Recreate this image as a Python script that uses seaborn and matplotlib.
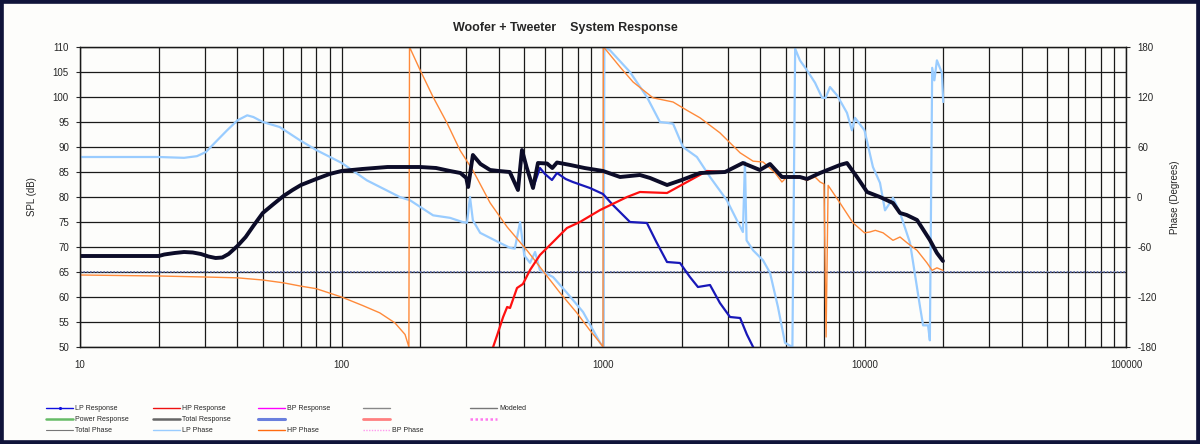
import numpy as np
import pandas as pd
import matplotlib
matplotlib.use('Agg')
import matplotlib.pyplot as plt
from matplotlib.lines import Line2D
from matplotlib.patches import Rectangle
from matplotlib.ticker import FixedLocator, FuncFormatter, NullFormatter
import seaborn as sns

# ---- data ----
# Total response (dB)
total_freq = [10, 15, 20, 21, 23, 25, 27, 29, 31, 33, 35, 37, 40, 43, 46, 50, 55, 60, 65, 70,
              80, 90, 100, 120, 150, 200, 230, 260, 285, 300, 305, 318, 340, 370, 400, 440,
              473, 490, 510, 540, 564, 611, 640, 667, 750, 850, 1000, 1162, 1384, 1514, 1758,
              2000, 2350, 2930, 3428, 3981, 4352, 4834, 5662, 6030, 6761, 8053, 8570, 9360,
              10230, 11460, 12850, 13670, 14500, 15880, 17780, 18920, 19950]
total_spl = [68.2, 68.2, 68.2, 68.5, 68.8, 69.0, 68.9, 68.6, 68.1, 67.8, 67.9, 68.6, 70.2, 72.0,
             74.2, 76.8, 78.6, 80.2, 81.4, 82.4, 83.6, 84.6, 85.2, 85.6, 86.0, 86.0, 85.8, 85.2,
             84.8, 83.8, 82.0, 88.4, 86.6, 85.4, 85.2, 85.0, 81.4, 89.4, 86.0, 81.8, 86.8, 86.7,
             85.8, 86.9, 86.4, 85.8, 85.2, 84.0, 84.4, 83.8, 82.4, 83.4, 84.8, 85.0, 86.8, 85.4,
             86.6, 84.0, 84.0, 83.6, 84.8, 86.4, 86.8, 84.0, 81.0, 80.0, 78.8, 76.8, 76.4, 75.4,
             71.4, 68.8, 67.2]

# LP (woofer) response above the point where it leaves the total curve
lp_freq_hi = [574, 600, 638, 667, 720, 767, 891, 1000, 1091, 1268, 1472, 1600, 1757, 1970,
              2150, 2307, 2566, 2800, 3060, 3345, 3550, 3750, 4000]
lp_spl_hi = [85.8, 84.6, 83.4, 84.8, 83.6, 83.0, 81.8, 80.6, 78.4, 75.0, 74.8, 71.0, 67.0, 66.8,
             64.0, 62.0, 62.4, 58.8, 56.0, 55.8, 52.5, 50.0, 47.0]

# HP (tweeter) response
hp_freq = [370, 380, 394, 415, 430, 441, 469, 494, 526, 574, 644, 728, 816, 975, 1236, 1384,
           1757, 2095, 2500, 2930]
hp_spl = [48.0, 50.0, 52.4, 56.0, 58.0, 57.8, 61.8, 62.6, 65.4, 68.4, 71.0, 73.8, 75.0, 77.4,
          80.0, 81.0, 80.8, 83.0, 85.2, 85.0]

# LP phase (degrees)
lp_ph_freq = [10, 20, 25, 28, 30.3, 33, 36.5, 40, 43.6, 46, 50, 58, 69.4, 80.5, 100, 125, 167,
              183, 224, 260, 290, 302, 310, 318, 339, 403, 441, 460, 482, 500, 526, 550, 574,
              644, 728, 839, 975, 1005, 1012, 1064, 1268, 1472, 1651, 1853, 2022, 2286, 2566,
              2977, 3252, 3428, 3490, 3540, 3750, 4093, 4352, 4667, 4966, 5300, 5430, 5662,
              6030, 6471, 6887, 7100, 7378, 7855, 8570, 8954, 9200, 10000, 10770, 11460, 11980,
              12510, 12850, 13670, 14930, 16310, 16750, 17500, 17780, 18150, 18500, 18920,
              19770, 20000]
lp_ph_deg = [48, 48, 47, 49, 54, 66, 80, 92, 98, 96, 90, 84, 68, 56, 41, 20, 0,
             -4, -22, -25, -30, -31, 0, -28, -43, -55, -61, -62, -30, -70, -79, -66, -88,
             -96, -115, -138, -175, -180, 180, 176, 150, 120, 90, 88, 60, 48, 24,
             -4, -28, -42, 42, -52, -64, -76, -91, -132, -175, -180, 178, 164,
             152, 137, 119, 119, 132, 122, 101, 80, 95, 80, 36, 17, -16,
             -7, -1, -19, -55, -132, -154, -154, -172, 155, 140, 164,
             149, 114]

# HP phase (degrees)
hp_ph_freq = [10, 20, 30, 40, 50, 60, 70, 80, 100, 120, 140, 160, 175, 181, 182, 200, 224, 253,
              284, 318, 370, 430, 512, 574, 685, 794, 891, 975, 1000, 1003, 1030, 1162, 1303,
              1553, 1853, 2095, 2350, 2800, 3345, 3750, 4093, 4550, 4834, 5045, 5662, 6030,
              6471, 6761, 7000, 7130, 7260, 8053, 9036, 10000, 10490, 11000, 11780, 12850,
              13670, 14550, 15880, 17330, 18130, 18920, 19950]
hp_ph_deg = [-93.6, -94.8, -96, -97, -99.6, -103, -107, -110, -120, -130, -139, -151, -165,
             -180, 180, 152, 120, 89, 56, 32, -7, -36, -64, -84, -115, -139, -160, -175, -180,
             180, 176, 156, 138, 119, 114, 104, 95, 77, 53, 43, 42, 29, 18, 24, 23, 20, 24, 18,
             15.6, -168, 14, -7, -31, -43, -42, -40, -43, -52, -48, -55, -64, -79, -88, -85, -88]

spl_ticks = list(range(50, 111, 5))
phase_ticks = list(range(-180, 181, 60))
decade_ticks = [10, 100, 1000, 10000, 100000]

# ---- frames ----
lp_cut = total_freq.index(540)
lp_df = pd.DataFrame({'f': total_freq[:lp_cut + 1] + lp_freq_hi,
                      'spl': total_spl[:lp_cut + 1] + lp_spl_hi})
hp_df = pd.DataFrame({'f': hp_freq, 'spl': hp_spl})
tot_df = pd.DataFrame({'f': total_freq, 'spl': total_spl})
lpph_df = pd.DataFrame({'f': lp_ph_freq, 'deg': lp_ph_deg})
hpph_df = pd.DataFrame({'f': hp_ph_freq, 'deg': hp_ph_deg})

sns.set_style('white')
plt.rcParams['font.family'] = ['Liberation Sans', 'DejaVu Sans']
plt.rcParams['axes.unicode_minus'] = False

fig = plt.figure(figsize=(12, 4.44), dpi=100, facecolor='#fdfdfb')
ax = fig.add_axes([80 / 1200, 1 - 347 / 444, 1046 / 1200, 300 / 444])
ax_ph = ax.twinx()
# SPL axis drawn above the phase axis, grid lives on the phase axis
ax.set_zorder(ax_ph.get_zorder() + 1)
ax.patch.set_visible(False)

# phase curves
sns.lineplot(data=lpph_df, x='f', y='deg', ax=ax_ph, color='#99ccff', lw=1.6,
             estimator=None, sort=False)
sns.lineplot(data=hpph_df, x='f', y='deg', ax=ax_ph, color='#ff8a3a', lw=1.0,
             estimator=None, sort=False)
ax_ph.axhline(-90, color='#5a6aa8', lw=1.2, ls=(0, (1, 1)), zorder=1)

# response curves
sns.lineplot(data=lp_df, x='f', y='spl', ax=ax, color='#1818b8', lw=1.6,
             estimator=None, sort=False)
sns.lineplot(data=hp_df, x='f', y='spl', ax=ax, color='#ff1010', lw=1.6,
             estimator=None, sort=False)
sns.lineplot(data=tot_df, x='f', y='spl', ax=ax, color='#0c0c28', lw=2.8,
             estimator=None, sort=False)

for a in (ax, ax_ph):
    a.set_xscale('log')
    a.set_xlim(10, 100000)
    a.set_xlabel('')
ax.set_ylim(50, 110)
ax_ph.set_ylim(-180, 180)

ax.set_yticks(spl_ticks)
ax_ph.yaxis.set_major_locator(FixedLocator(phase_ticks))
ax_ph.yaxis.set_minor_locator(FixedLocator(list(range(-150, 180, 60))))
ax_ph.yaxis.set_minor_formatter(NullFormatter())

ax_ph.xaxis.set_visible(True)
for a in (ax, ax_ph):
    a.xaxis.set_major_locator(FixedLocator(decade_ticks))
    a.xaxis.set_major_formatter(FuncFormatter(lambda v, p: f'{int(round(v))}'))
    a.xaxis.set_minor_locator(FixedLocator([m * d for d in decade_ticks[:-1] for m in range(2, 10)]))
    a.xaxis.set_minor_formatter(NullFormatter())

ax.grid(False, which='both')
ax_ph.grid(True, which='both', axis='both', color='#1a1a1a', lw=0.9)

ax.tick_params(axis='x', which='both', length=0, labelsize=7, pad=9)
ax.tick_params(axis='y', length=3, width=0.8, labelsize=7, pad=5, left=True)
ax_ph.tick_params(axis='y', which='major', length=3, width=0.8, labelsize=7, pad=5, right=True)
ax_ph.tick_params(axis='y', which='minor', length=0)
ax_ph.tick_params(axis='x', which='both', length=0, labelbottom=False)

for a in (ax, ax_ph):
    for s in a.spines.values():
        s.set_color('#1a1a1a')
        s.set_linewidth(0.9)

ax.set_ylabel('SPL (dB)', fontsize=7, labelpad=11)
ax_ph.set_ylabel('Phase (Degrees)', fontsize=7, labelpad=10, rotation=90)

fig.text(0.471, 1 - 28 / 444, 'Woofer + Tweeter    System Response', ha='center', va='center',
         fontsize=9, fontweight='bold')

# legend, one block per Excel-style column
legend_cols = [
    (46, [('LP Response', dict(color='#1010e0', lw=1.0, marker='.', markersize=2.5)),
          ('Power Response', dict(color='#66bb66', lw=1.8)),
          ('Total Phase', dict(color='#777777', lw=0.8))]),
    (153, [('HP Response', dict(color='#ee1111', lw=1.0)),
           ('Total Response', dict(color='#666666', lw=1.8)),
           ('LP Phase', dict(color='#99ccff', lw=1.0))]),
    (258, [('BP Response', dict(color='#ff00ff', lw=1.0)),
           ('', dict(color='#6a7fdd', lw=2.2)),
           ('HP Phase', dict(color='#ff6a10', lw=1.0))]),
    (363, [('', dict(color='#888888', lw=1.0)),
           ('', dict(color='#ff7f7f', lw=2.0)),
           ('BP Phase', dict(color='#ff99ee', lw=1.0, ls=(0, (1, 1))))]),
    (470, [('Modeled', dict(color='#777777', lw=1.0)),
           ('', dict(color='#ff77ee', lw=1.8, ls=(0, (1, 1))))]),
]
for x0, entries in legend_cols:
    handles = [Line2D([], [], **kw) for _, kw in entries]
    labels = [lab for lab, _ in entries]
    fig.legend(handles, labels, loc='upper left', bbox_to_anchor=(x0 / 1200, 1 - 405 / 444),
               frameon=False, fontsize=5, handlelength=3.9, handletextpad=0.3,
               labelspacing=0.6, borderpad=0, borderaxespad=0)

fig.patches.append(Rectangle((0, 0), 1, 1, transform=fig.transFigure, fill=False,
                             edgecolor='#10143a', lw=5.5))

fig.savefig('out.png', dpi=100, facecolor=fig.get_facecolor())
